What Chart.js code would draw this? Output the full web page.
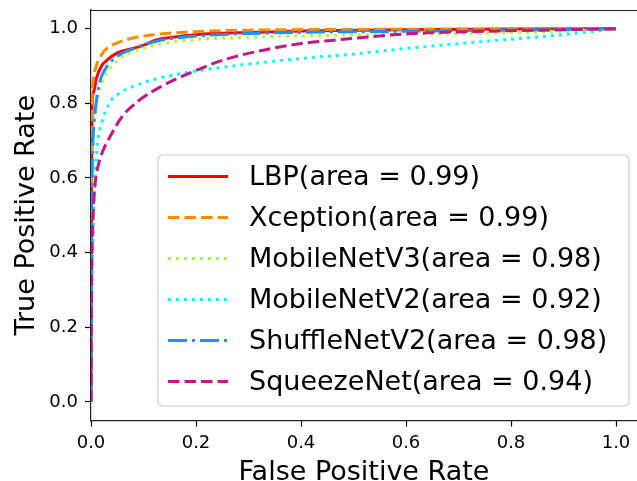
<!DOCTYPE html>
<html>
<head>
<meta charset="utf-8">
<script src="https://cdn.jsdelivr.net/npm/chart.js@4/dist/chart.umd.min.js"></script>
<style>
  body { margin: 0; background: #fff; }
  canvas { display: block; }
</style>
</head>
<body>
<canvas id="rocChart" width="637" height="481"></canvas>
<script>
// ROC curve data
const labels = [
    'LBP(area = 0.99)',
    'Xception(area = 0.99)',
    'MobileNetV3(area = 0.98)',
    'MobileNetV2(area = 0.92)',
    'ShuffleNetV2(area = 0.98)',
    'SqueezeNet(area = 0.94)'
];

const lbpFpr = [0, 0.001, 0.002, 0.005, 0.01, 0.02, 0.03, 0.05, 0.08, 0.1, 0.12, 0.15, 0.2, 0.3, 0.4, 0.6, 0.8, 1.0];
const lbpTpr = [0, 0.55, 0.79, 0.83, 0.865, 0.9, 0.915, 0.935, 0.947, 0.955, 0.968, 0.976, 0.984, 0.99, 0.994, 0.997, 0.999, 1.0];

const xceptionFpr = [0, 0.001, 0.002, 0.004, 0.01, 0.02, 0.03, 0.05, 0.08, 0.12, 0.2, 0.3, 0.5, 0.7, 1.0];
const xceptionTpr = [0, 0.6, 0.8, 0.86, 0.9, 0.93, 0.947, 0.962, 0.975, 0.984, 0.992, 0.996, 0.998, 0.999, 1.0];

const mobileV3Fpr = [0, 0.001, 0.002, 0.004, 0.008, 0.015, 0.025, 0.04, 0.06, 0.1, 0.15, 0.2, 0.3, 0.5, 0.7, 0.9, 1.0];
const mobileV3Tpr = [0, 0.45, 0.6, 0.7, 0.77, 0.83, 0.87, 0.9, 0.925, 0.948, 0.963, 0.971, 0.977, 0.983, 0.987, 0.993, 1.0];

const mobileV2Fpr = [0, 0.002, 0.004, 0.006, 0.009, 0.012, 0.02, 0.035, 0.05, 0.08, 0.12, 0.18, 0.27, 0.4, 0.5, 0.6, 0.75, 0.9, 1.0];
const mobileV2Tpr = [0, 0.3, 0.45, 0.55, 0.63, 0.69, 0.745, 0.8, 0.823, 0.845, 0.864, 0.882, 0.9, 0.92, 0.932, 0.947, 0.966, 0.984, 1.0];

const shuffleFpr = [0, 0.001, 0.002, 0.003, 0.004, 0.008, 0.014, 0.02, 0.03, 0.05, 0.08, 0.13, 0.2, 0.3, 0.4, 0.6, 0.8, 1.0];
const shuffleTpr = [0, 0.45, 0.6, 0.67, 0.71, 0.78, 0.84, 0.872, 0.898, 0.926, 0.946, 0.968, 0.98, 0.987, 0.99, 0.993, 0.996, 1.0];

const squeezeFpr = [0, 0.001, 0.002, 0.004, 0.008, 0.015, 0.025, 0.036, 0.058, 0.09, 0.135, 0.19, 0.25, 0.32, 0.4, 0.47, 0.6, 0.75, 0.9, 1.0];
const squeezeTpr = [0, 0.3, 0.4, 0.5, 0.585, 0.64, 0.68, 0.71, 0.762, 0.806, 0.846, 0.882, 0.915, 0.94, 0.96, 0.97, 0.986, 0.993, 0.997, 1.0];

const tickValues = [0, 0.2, 0.4, 0.6, 0.8, 1.0];

const fprs = [lbpFpr, xceptionFpr, mobileV3Fpr, mobileV2Fpr, shuffleFpr, squeezeFpr];
const tprs = [lbpTpr, xceptionTpr, mobileV3Tpr, mobileV2Tpr, shuffleTpr, squeezeTpr];
const colors = ['#ff0000', '#ff8c00', '#adff2f', '#00ffff', '#1e90ff', '#c71585'];
const dashes = [[], [11.5, 5], [3, 5], [3, 5], [19, 5, 3, 5], [11.5, 5]];
const LW = 3;
const FONT = "'DejaVu Sans', sans-serif";

function toPoints(xs, ys) {
    return xs.map(function (x, i) { return { x: x, y: ys[i] }; });
}

const datasets = labels.map(function (label, i) {
    return {
        label: label,
        data: toPoints(fprs[i], tprs[i]),
        borderColor: colors[i],
        borderWidth: LW,
        borderDash: dashes[i],
        pointRadius: 0,
        fill: false,
        cubicInterpolationMode: 'monotone',
        order: labels.length - i
    };
});

// legend box inside the plot, like matplotlib
const insideLegend = {
    id: 'insideLegend',
    afterDatasetsDraw(chart) {
        const ctx = chart.ctx;
        const x0 = 158, y0 = 155, w = 471, h = 251, r = 5;
        ctx.save();
        ctx.beginPath();
        ctx.roundRect(x0, y0, w, h, r);
        ctx.fillStyle = 'rgba(255,255,255,0.8)';
        ctx.fill();
        ctx.strokeStyle = '#d0d0d0';
        ctx.lineWidth = 1.2;
        ctx.stroke();
        ctx.font = '27px ' + FONT;
        ctx.textBaseline = 'middle';
        ctx.fillStyle = '#000';
        chart.data.datasets.forEach(function (ds, i) {
            const y = 176.5 + i * 41;
            ctx.beginPath();
            ctx.setLineDash(ds.borderDash);
            ctx.strokeStyle = ds.borderColor;
            ctx.lineWidth = LW;
            ctx.moveTo(168, y);
            ctx.lineTo(228, y);
            ctx.stroke();
            ctx.setLineDash([]);
            ctx.fillText(ds.label, 249, y + 1);
        });
        ctx.restore();
    },
    afterDraw(chart) {
        const a = chart.chartArea;
        const ctx = chart.ctx;
        ctx.save();
        ctx.strokeStyle = '#222';
        ctx.lineWidth = 1.2;
        ctx.beginPath();
        ctx.moveTo(a.left, a.top + 0.5);
        ctx.lineTo(a.right, a.top + 0.5);
        ctx.stroke();
        ctx.restore();
    }
};

const ctx = document.getElementById('rocChart').getContext('2d');
new Chart(ctx, {
    type: 'line',
    data: { datasets: datasets },
    options: {
        responsive: false,
        animation: false,
        devicePixelRatio: 1,
        layout: { padding: { top: 10, right: 0, left: 0, bottom: 0 } },
        plugins: {
            legend: { display: false },
            tooltip: { enabled: false }
        },
        scales: {
            x: {
                type: 'linear',
                min: 0,
                max: 1.04,
                afterFit: function (scale) {
                    scale.height = 60.5;
                    scale.paddingLeft = 0;
                    scale.paddingRight = 0;
                },
                afterBuildTicks: function (scale) {
                    scale.ticks = tickValues.map(function (v) { return { value: v }; });
                },
                ticks: {
                    color: '#000',
                    padding: 6,
                    maxRotation: 0,
                    font: { family: FONT, size: 18 },
                    callback: function (v) { return v.toFixed(1); }
                },
                grid: { drawOnChartArea: false, tickLength: 6, tickColor: '#000', tickWidth: 1.2 },
                border: { display: true, color: '#222', width: 1.2 },
                title: {
                    display: true,
                    text: 'False Positive Rate',
                    color: '#000',
                    font: { family: FONT, size: 27, lineHeight: 1 },
                    padding: { top: 0, bottom: -5 }
                }
            },
            y: {
                type: 'linear',
                min: -0.05,
                max: 1.05,
                afterFit: function (scale) {
                    scale.width = 91;
                    scale.paddingTop = 0;
                    scale.paddingBottom = 0;
                },
                afterBuildTicks: function (scale) {
                    scale.ticks = tickValues.map(function (v) { return { value: v }; });
                },
                ticks: {
                    color: '#000',
                    padding: 7,
                    font: { family: FONT, size: 18 },
                    callback: function (v) { return v.toFixed(1); }
                },
                grid: { drawOnChartArea: false, tickLength: 6, tickColor: '#000', tickWidth: 1.2 },
                border: { display: true, color: '#222', width: 1.2 },
                title: {
                    display: true,
                    text: 'True Positive Rate',
                    color: '#000',
                    font: { family: FONT, size: 27, lineHeight: 1 },
                    padding: { top: 13, bottom: 0 }
                }
            }
        }
    },
    plugins: [insideLegend]
});
</script>
</body>
</html>
